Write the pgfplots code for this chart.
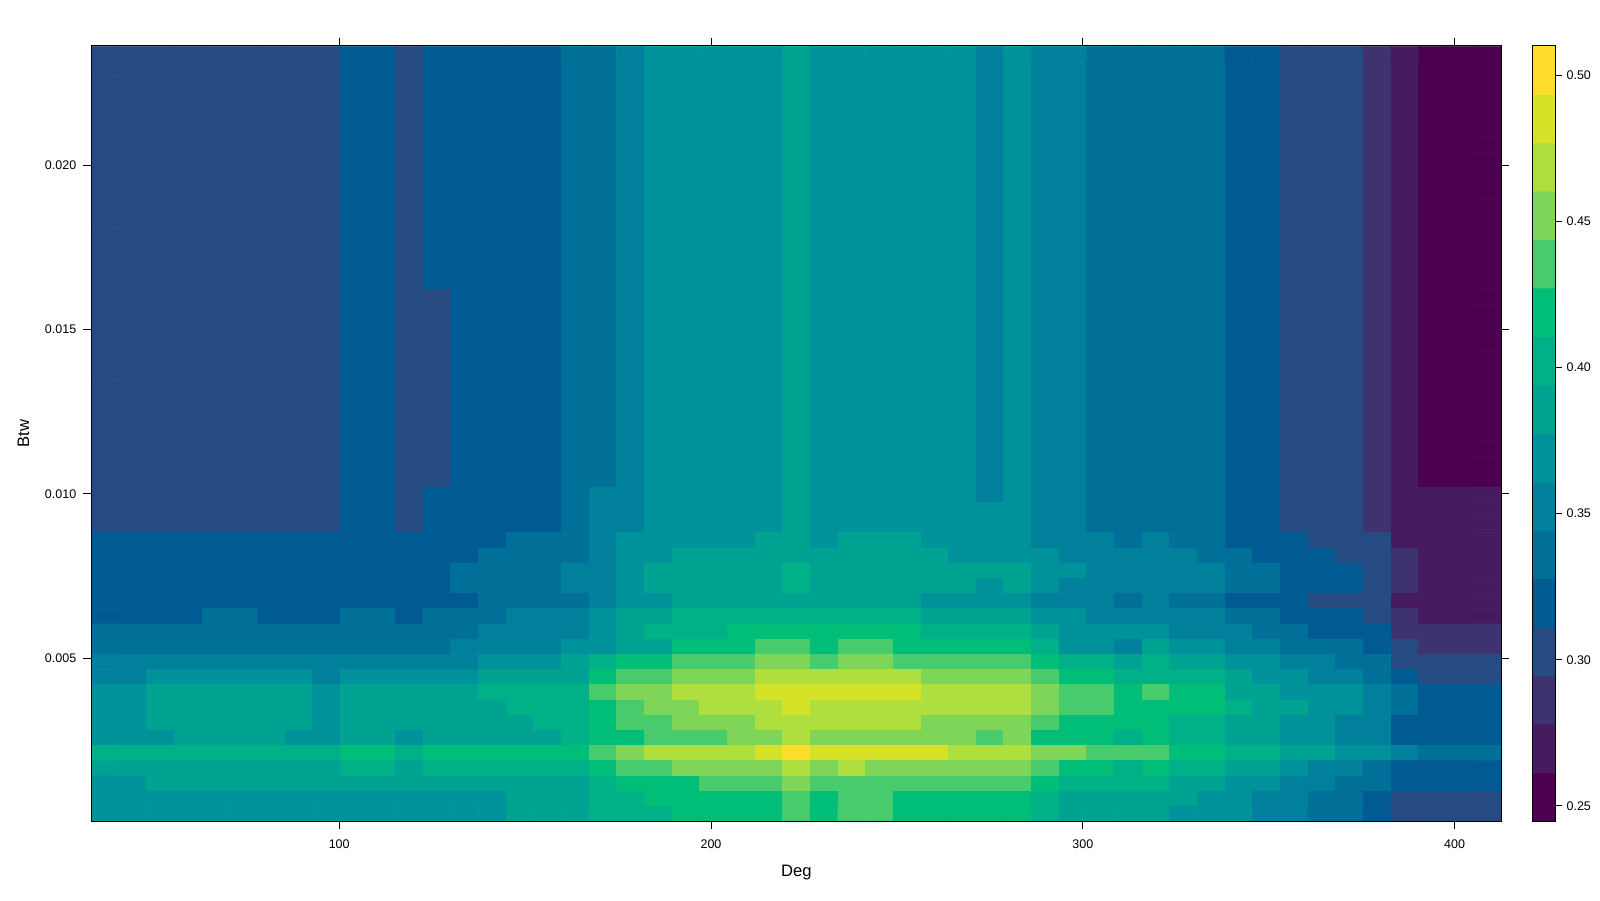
\documentclass[border=0pt]{standalone}
\usepackage{fontspec}
\setmainfont{Liberation Sans}
\usepackage{pgfplots}
\usepackage{pgfplotstable}
\pgfplotsset{compat=1.18}
\pgfplotsset{colormap={vd}{
  rgb255=(75,0,80) rgb255=(71,28,95) rgb255=(62,51,112) rgb255=(38,74,130)
  rgb255=(0,91,146) rgb255=(0,112,152) rgb255=(0,128,155) rgb255=(0,146,155)
  rgb255=(0,162,145) rgb255=(0,176,134) rgb255=(0,190,120) rgb255=(71,203,108)
  rgb255=(127,213,88) rgb255=(174,223,63) rgb255=(214,226,40) rgb255=(255,221,45)}}
% class of the colour key in each cell (0 = 0.245-0.261 ... 15 = 0.494-0.510), top row first
\pgfplotstableread[header=false]{
3 3 3 3 3 3 3 3 3 4 4 3 4 4 4 4 4 5 5 6 7 7 7 7 7 8 7 7 7 7 7 7 6 7 6 6 5 5 5 5 5 4 4 3 3 3 2 1 0 0 0
3 3 3 3 3 3 3 3 3 4 4 3 4 4 4 4 4 5 5 6 7 7 7 7 7 8 7 7 7 7 7 7 6 7 6 6 5 5 5 5 5 4 4 3 3 3 2 1 0 0 0
3 3 3 3 3 3 3 3 3 4 4 3 4 4 4 4 4 5 5 6 7 7 7 7 7 8 7 7 7 7 7 7 6 7 6 6 5 5 5 5 5 4 4 3 3 3 2 1 0 0 0
3 3 3 3 3 3 3 3 3 4 4 3 4 4 4 4 4 5 5 6 7 7 7 7 7 8 7 7 7 7 7 7 6 7 6 6 5 5 5 5 5 4 4 3 3 3 2 1 0 0 0
3 3 3 3 3 3 3 3 3 4 4 3 4 4 4 4 4 5 5 6 7 7 7 7 7 8 7 7 7 7 7 7 6 7 6 6 5 5 5 5 5 4 4 3 3 3 2 1 0 0 0
3 3 3 3 3 3 3 3 3 4 4 3 4 4 4 4 4 5 5 6 7 7 7 7 7 8 7 7 7 7 7 7 6 7 6 6 5 5 5 5 5 4 4 3 3 3 2 1 0 0 0
3 3 3 3 3 3 3 3 3 4 4 3 4 4 4 4 4 5 5 6 7 7 7 7 7 8 7 7 7 7 7 7 6 7 6 6 5 5 5 5 5 4 4 3 3 3 2 1 0 0 0
3 3 3 3 3 3 3 3 3 4 4 3 4 4 4 4 4 5 5 6 7 7 7 7 7 8 7 7 7 7 7 7 6 7 6 6 5 5 5 5 5 4 4 3 3 3 2 1 0 0 0
3 3 3 3 3 3 3 3 3 4 4 3 4 4 4 4 4 5 5 6 7 7 7 7 7 8 7 7 7 7 7 7 6 7 6 6 5 5 5 5 5 4 4 3 3 3 2 1 0 0 0
3 3 3 3 3 3 3 3 3 4 4 3 4 4 4 4 4 5 5 6 7 7 7 7 7 8 7 7 7 7 7 7 6 7 6 6 5 5 5 5 5 4 4 3 3 3 2 1 0 0 0
3 3 3 3 3 3 3 3 3 4 4 3 4 4 4 4 4 5 5 6 7 7 7 7 7 8 7 7 7 7 7 7 6 7 6 6 5 5 5 5 5 4 4 3 3 3 2 1 0 0 0
3 3 3 3 3 3 3 3 3 4 4 3 4 4 4 4 4 5 5 6 7 7 7 7 7 8 7 7 7 7 7 7 6 7 6 6 5 5 5 5 5 4 4 3 3 3 2 1 0 0 0
3 3 3 3 3 3 3 3 3 4 4 3 4 4 4 4 4 5 5 6 7 7 7 7 7 8 7 7 7 7 7 7 6 7 6 6 5 5 5 5 5 4 4 3 3 3 2 1 0 0 0
3 3 3 3 3 3 3 3 3 4 4 3 4 4 4 4 4 5 5 6 7 7 7 7 7 8 7 7 7 7 7 7 6 7 6 6 5 5 5 5 5 4 4 3 3 3 2 1 0 0 0
3 3 3 3 3 3 3 3 3 4 4 3 4 4 4 4 4 5 5 6 7 7 7 7 7 8 7 7 7 7 7 7 6 7 6 6 5 5 5 5 5 4 4 3 3 3 2 1 0 0 0
3 3 3 3 3 3 3 3 3 4 4 3 4 4 4 4 4 5 5 6 7 7 7 7 7 8 7 7 7 7 7 7 6 7 6 6 5 5 5 5 5 4 4 3 3 3 2 1 0 0 0
3 3 3 3 3 3 3 3 3 4 4 3 3 4 4 4 4 5 5 6 7 7 7 7 7 8 7 7 7 7 7 7 6 7 6 6 5 5 5 5 5 4 4 3 3 3 2 1 0 0 0
3 3 3 3 3 3 3 3 3 4 4 3 3 4 4 4 4 5 5 6 7 7 7 7 7 8 7 7 7 7 7 7 6 7 6 6 5 5 5 5 5 4 4 3 3 3 2 1 0 0 0
3 3 3 3 3 3 3 3 3 4 4 3 3 4 4 4 4 5 5 6 7 7 7 7 7 8 7 7 7 7 7 7 6 7 6 6 5 5 5 5 5 4 4 3 3 3 2 1 0 0 0
3 3 3 3 3 3 3 3 3 4 4 3 3 4 4 4 4 5 5 6 7 7 7 7 7 8 7 7 7 7 7 7 6 7 6 6 5 5 5 5 5 4 4 3 3 3 2 1 0 0 0
3 3 3 3 3 3 3 3 3 4 4 3 3 4 4 4 4 5 5 6 7 7 7 7 7 8 7 7 7 7 7 7 6 7 6 6 5 5 5 5 5 4 4 3 3 3 2 1 0 0 0
3 3 3 3 3 3 3 3 3 4 4 3 3 4 4 4 4 5 5 6 7 7 7 7 7 8 7 7 7 7 7 7 6 7 6 6 5 5 5 5 5 4 4 3 3 3 2 1 0 0 0
3 3 3 3 3 3 3 3 3 4 4 3 3 4 4 4 4 5 5 6 7 7 7 7 7 8 7 7 7 7 7 7 6 7 6 6 5 5 5 5 5 4 4 3 3 3 2 1 0 0 0
3 3 3 3 3 3 3 3 3 4 4 3 3 4 4 4 4 5 5 6 7 7 7 7 7 8 7 7 7 7 7 7 6 7 6 6 5 5 5 5 5 4 4 3 3 3 2 1 0 0 0
3 3 3 3 3 3 3 3 3 4 4 3 3 4 4 4 4 5 5 6 7 7 7 7 7 8 7 7 7 7 7 7 6 7 6 6 5 5 5 5 5 4 4 3 3 3 2 1 0 0 0
3 3 3 3 3 3 3 3 3 4 4 3 3 4 4 4 4 5 5 6 7 7 7 7 7 8 7 7 7 7 7 7 6 7 6 6 5 5 5 5 5 4 4 3 3 3 2 1 0 0 0
3 3 3 3 3 3 3 3 3 4 4 3 3 4 4 4 4 5 5 6 7 7 7 7 7 8 7 7 7 7 7 7 6 7 6 6 5 5 5 5 5 4 4 3 3 3 2 1 0 0 0
3 3 3 3 3 3 3 3 3 4 4 3 3 4 4 4 4 5 5 6 7 7 7 7 7 8 7 7 7 7 7 7 6 7 6 6 5 5 5 5 5 4 4 3 3 3 2 1 0 0 0
3 3 3 3 3 3 3 3 3 4 4 3 3 4 4 4 4 5 5 6 7 7 7 7 7 8 7 7 7 7 7 7 6 7 6 6 5 5 5 5 5 4 4 3 3 3 2 1 0 0 0
3 3 3 3 3 3 3 3 3 4 4 3 4 4 4 4 4 5 6 6 7 7 7 7 7 8 7 7 7 7 7 7 6 7 6 6 5 5 5 5 5 4 4 3 3 3 2 1 1 1 1
3 3 3 3 3 3 3 3 3 4 4 3 4 4 4 4 4 5 6 6 7 7 7 7 7 8 7 7 7 7 7 7 7 7 6 6 5 5 5 5 5 4 4 3 3 3 2 1 1 1 1
3 3 3 3 3 3 3 3 3 4 4 3 4 4 4 4 4 5 6 6 7 7 7 7 7 8 7 7 7 7 7 7 7 7 6 6 5 5 5 5 5 4 4 3 3 3 2 1 1 1 1
4 4 4 4 4 4 4 4 4 4 4 4 4 4 4 5 5 5 6 7 7 7 7 7 8 8 7 8 8 8 7 7 7 7 6 6 6 5 6 5 5 4 4 4 3 3 3 1 1 1 1
4 4 4 4 4 4 4 4 4 4 4 4 4 4 5 5 5 5 6 7 7 8 8 8 8 8 8 8 8 8 8 7 7 7 7 6 6 6 6 6 5 5 4 4 4 3 3 2 1 1 1
4 4 4 4 4 4 4 4 4 4 4 4 4 5 5 5 5 6 6 7 8 8 8 8 8 9 8 8 8 8 8 8 8 8 7 7 6 6 6 6 6 5 5 4 4 4 3 2 1 1 1
4 4 4 4 4 4 4 4 4 4 4 4 4 5 5 5 5 6 6 7 8 8 8 8 8 9 8 8 8 8 8 8 7 8 7 6 6 6 6 6 6 5 5 4 4 4 3 2 1 1 1
4 4 4 4 4 4 4 4 4 4 4 4 4 4 5 5 5 5 6 7 7 8 8 8 8 8 8 8 8 8 7 7 7 7 6 6 6 5 6 5 5 4 4 4 3 3 3 1 1 1 1
4 4 4 4 5 5 4 4 4 5 5 4 5 5 5 6 6 6 7 8 8 9 9 9 9 9 9 9 9 9 8 8 8 8 7 7 6 6 6 6 6 5 5 4 4 4 3 2 1 1 1
5 5 5 5 5 5 5 5 5 5 5 5 5 5 6 6 6 6 7 8 9 9 9 10 10 10 10 10 10 10 9 9 9 9 8 7 7 7 7 6 6 6 5 5 4 4 4 2 2 2 2
5 5 5 5 5 5 5 5 5 5 5 5 5 6 6 6 6 7 7 8 8 10 10 10 11 11 10 11 11 10 10 10 10 10 9 7 7 6 8 7 7 6 6 5 5 5 4 3 2 2 2
6 6 6 6 6 6 6 6 6 6 6 6 6 6 7 7 7 8 9 10 10 11 11 11 12 12 11 12 12 11 11 11 11 11 10 9 9 8 9 8 8 7 7 6 6 5 5 3 3 3 3
6 6 7 7 7 7 7 7 6 7 7 7 7 7 8 8 8 8 10 11 11 12 12 12 13 13 13 13 13 13 12 12 12 12 11 10 10 9 9 9 9 8 7 7 6 6 5 4 3 3 3
7 7 8 8 8 8 8 8 7 8 8 8 8 8 9 9 9 9 11 12 12 13 13 13 14 14 14 14 14 14 13 13 13 13 12 11 11 10 11 10 10 8 8 7 7 7 6 5 4 4 4
7 7 8 8 8 8 8 8 7 8 8 8 8 8 8 9 9 9 10 11 12 12 13 13 13 14 13 13 13 13 13 13 13 13 12 11 11 10 10 10 10 9 8 8 7 7 6 5 4 4 4
7 7 8 8 8 8 8 8 7 8 8 8 8 8 8 8 9 9 10 11 11 12 12 12 13 13 13 13 13 13 12 12 12 12 11 10 10 10 10 9 9 8 8 7 7 6 6 4 4 4 4
7 7 7 8 8 8 8 7 7 8 8 7 8 8 8 8 8 9 10 10 11 11 11 12 12 13 12 12 12 12 12 12 11 12 10 10 10 9 10 9 9 8 8 7 7 6 6 4 4 4 4
9 9 9 9 9 9 9 9 9 10 10 9 10 10 10 10 10 10 11 12 13 13 13 13 14 15 14 14 14 14 14 13 13 13 12 12 11 11 11 10 10 9 9 8 8 7 7 6 5 5 5
8 8 8 8 8 8 8 8 8 9 9 8 9 9 9 9 9 9 10 11 11 12 12 12 12 13 12 13 12 12 12 12 12 12 11 10 10 9 10 9 9 8 8 7 6 6 5 4 4 4 4
7 7 8 8 8 8 8 8 8 8 8 8 8 8 8 8 8 8 9 10 10 10 11 11 11 12 11 11 11 11 11 11 11 11 10 9 9 9 9 8 8 7 7 6 6 5 5 4 4 4 4
7 7 7 7 7 7 7 7 7 7 7 7 7 7 7 8 8 8 9 9 10 10 10 10 10 11 10 11 11 10 10 10 10 10 9 8 8 8 8 8 7 7 6 6 5 5 4 3 3 3 3
7 7 7 7 7 7 7 7 7 7 7 7 7 7 7 8 8 8 9 9 9 10 10 10 10 11 10 11 11 10 10 10 10 10 9 8 8 8 8 7 7 7 6 6 5 5 4 3 3 3 3
}\grid
% long form for the matrix plot: Deg and Btw at the centre of each of the 51 x 51 cells
\def\cellcoords{}
\pgfplotsforeachungrouped \ri in {0,...,50}{%
  \pgfmathsetmacro\yv{23.62-0.4626*(\ri+0.5)}%
  \def\rowcoords{}%
  \pgfplotsforeachungrouped \ci in {0,...,50}{%
    \pgfmathsetmacro\xv{33.33+7.436*(\ci+0.5)}%
    \pgfplotstablegetelem{\ri}{[index]\ci}\of\grid
    \xdef\rowcoords{\rowcoords (\xv,\yv e-3) [\pgfplotsretval]}%
  }%
  \xdef\cellcoords{\cellcoords\rowcoords}%
}
\begin{document}
\begin{tikzpicture}
\path[use as bounding box] (0,0) rectangle (800pt,450pt);
\begin{axis}[
    at={(45.65pt,39.5pt)}, anchor=south west,
    scale only axis, width=705pt, height=387.5pt,
    xmin=33.33, xmax=412.55, ymin=0.00004, ymax=0.02363,
    xtick={100,200,300,400},
    ytick={0.005,0.010,0.015,0.020},
    scaled y ticks=false,
    yticklabel style={/pgf/number format/fixed, /pgf/number format/fixed zerofill, /pgf/number format/precision=3},
    xticklabel style={yshift=-1.8pt},
    /pgf/number format/assume math mode=true,
    tick label style={font=\fontsize{6.25}{7}\selectfont, black},
    tick align=outside, major tick length=4pt,
    xticklabel pos=lower, yticklabel pos=left,
    tick style={black, line width=0.5pt},
    axis line style={line width=0.5pt},
    axis on top,
    colormap name=vd, colormap access=direct,
    every axis x label/.style={at={(axis description cs:0.5,0)}, anchor=center, yshift=-26pt},
    every axis y label/.style={at={(axis description cs:0,0.5)}, anchor=center, rotate=90, yshift=33.9pt},
    label style={font=\fontsize{8.3}{10}\selectfont},
    xlabel={Deg}, ylabel={Btw},
]
\edef\heatplot{\noexpand\addplot[matrix plot*, mesh/cols=51, point meta=explicit, draw=mapped color, line width=0.25pt] coordinates {\cellcoords};}
\heatplot
\end{axis}
\begin{axis}[
    at={(766.35pt,39.5pt)}, anchor=south west,
    scale only axis, width=11.3pt, height=387.5pt,
    xmin=-0.5, xmax=1.5, ymin=0.2448, ymax=0.5101,
    xtick=\empty,
    ytick={0.25,0.30,0.35,0.40,0.45,0.50},
    yticklabel style={xshift=-1pt, /pgf/number format/fixed, /pgf/number format/fixed zerofill, /pgf/number format/precision=2},
    /pgf/number format/assume math mode=true,
    tick label style={font=\fontsize{6.25}{7}\selectfont, black},
    ytick pos=right, yticklabel pos=right,
    tick align=outside, major tick length=3.1pt,
    tick style={black, line width=0.5pt},
    axis line style={line width=0.5pt},
    axis on top,
    colormap name=vd, colormap access=direct,
]
\addplot[matrix plot*, mesh/cols=2, point meta=explicit, draw=mapped color, line width=0.25pt] coordinates {
(0,0.2531) [0] (1,0.2531) [0]
(0,0.2697) [1] (1,0.2697) [1]
(0,0.2863) [2] (1,0.2863) [2]
(0,0.3029) [3] (1,0.3029) [3]
(0,0.3194) [4] (1,0.3194) [4]
(0,0.3360) [5] (1,0.3360) [5]
(0,0.3526) [6] (1,0.3526) [6]
(0,0.3692) [7] (1,0.3692) [7]
(0,0.3858) [8] (1,0.3858) [8]
(0,0.4023) [9] (1,0.4023) [9]
(0,0.4189) [10] (1,0.4189) [10]
(0,0.4355) [11] (1,0.4355) [11]
(0,0.4521) [12] (1,0.4521) [12]
(0,0.4687) [13] (1,0.4687) [13]
(0,0.4852) [14] (1,0.4852) [14]
(0,0.5018) [15] (1,0.5018) [15]
};
\end{axis}
\end{tikzpicture}
\end{document}
